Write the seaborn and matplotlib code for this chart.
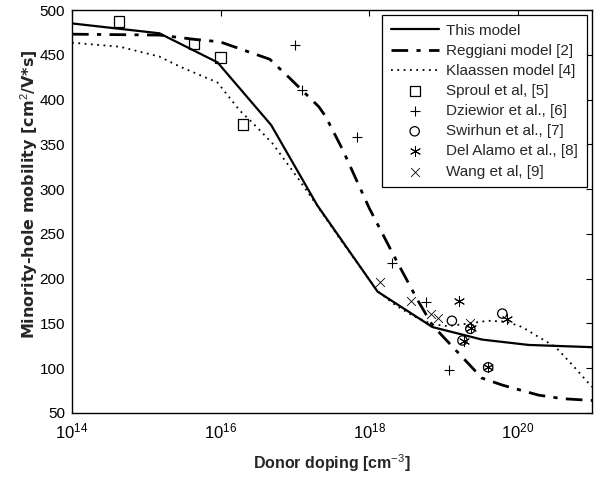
import numpy as np
import pandas as pd
import matplotlib
matplotlib.use("Agg")
import matplotlib.pyplot as plt
import seaborn as sns
from matplotlib.ticker import LogFormatterMathtext, FixedLocator, NullLocator

# ---------------- data ----------------
model_N = [1e14, 1.5e15, 9.1e15, 4.8e16, 2.0e17, 1.3e18, 7.1e18, 3.3e19, 1.4e20, 1e21]
model_mu = [485, 474, 441.5, 371.5, 282, 185.5, 146, 132, 126, 123.5]

reggiani_N = [1e14, 1.5e15, 4.7e15, 9.8e15, 4.6e16, 8.5e16, 2.1e17, 2.6e17, 4.4e17,
              1e18, 2.3e18, 4.5e18, 7.1e18, 3.3e19, 6.3e19, 1.9e20, 4e20, 1e21]
reggiani_mu = [473, 472, 467, 464.5, 445, 424, 392, 381, 344,
               279, 221, 176, 148, 89, 81, 70, 66, 64]

klaassen_N = [1e14, 4.4e14, 1.5e15, 2.8e15, 9.1e15, 1.8e16, 2.7e16, 5e16, 1.15e17, 1.9e17,
              4e17, 1.3e18, 2.3e18, 4e18, 7.1e18, 1.15e19, 2.2e19, 4e19, 7e19,
              1.15e20, 1.9e20, 3.2e20, 5.4e20, 1e21]
klaassen_mu = [463.5, 459, 448, 437, 419, 388, 374, 351, 310, 284,
               245, 186, 170, 158, 149, 147, 150, 153, 152,
               146, 135, 124, 104, 79]

sproul_N = [4.3e14, 4.4e15, 1.0e16, 2.0e16]
sproul_mu = [487, 462, 447, 372]

dziewior_N = [1.0e17, 1.23e17, 6.9e17, 2.0e18, 5.9e18, 1.2e19]
dziewior_mu = [461, 411, 358, 217, 174, 98]

swirhun_N = [1.3e19, 6.2e19, 1.8e19, 2.3e19, 4.0e19]
swirhun_mu = [153, 161, 131, 144, 101]

delalamo_N = [1.6e19, 7.1e19, 2.35e19, 1.9e19, 4.0e19]
delalamo_mu = [175, 155, 145, 130, 101]

wang_N = [1.38e18, 3.7e18, 6.9e18, 8.5e18, 2.3e19]
wang_mu = [196, 175, 160, 156, 150]

x_ticks = [1e14, 1e16, 1e18, 1e20]
y_ticks = [50, 100, 150, 200, 250, 300, 350, 400, 450, 500]

# ---------------- style ----------------
sns.set_style("white")
plt.rcParams["font.family"] = ["Liberation Sans", "DejaVu Sans"]
plt.rcParams["mathtext.fontset"] = "custom"
plt.rcParams["mathtext.rm"] = "Liberation Sans"
plt.rcParams["mathtext.it"] = "Liberation Sans:italic"
plt.rcParams["mathtext.bf"] = "Liberation Sans:bold"

fig = plt.figure(figsize=(5.99, 4.78), dpi=100)
ax = fig.add_axes([72 / 599, 1 - 413 / 478, 520 / 599, 403 / 478])

lines = pd.DataFrame({"N": model_N, "mu": model_mu})
sns.lineplot(data=lines, x="N", y="mu", ax=ax, color="black", lw=1.6,
             linestyle="-", label="This model", sort=False)
reg = pd.DataFrame({"N": reggiani_N, "mu": reggiani_mu})
sns.lineplot(data=reg, x="N", y="mu", ax=ax, color="black", lw=2.0,
             linestyle=(0, (6, 3, 1.5, 3)), label="Reggiani model [2]", sort=False)
kla = pd.DataFrame({"N": klaassen_N, "mu": klaassen_mu})
sns.lineplot(data=kla, x="N", y="mu", ax=ax, color="black", lw=1.3,
             linestyle=(0, (1, 2.5)), label="Klaassen model [4]", sort=False)

def pts(Ns, mus, marker, label, size, lw=0.9, filled=False):
    df = pd.DataFrame({"N": Ns, "mu": mus})
    if filled:
        sns.scatterplot(data=df, x="N", y="mu", ax=ax, marker=marker, s=size,
                        color="black", linewidth=lw, label=label, zorder=5)
    else:
        sns.scatterplot(data=df, x="N", y="mu", ax=ax, marker=marker, s=size,
                        facecolor="none", edgecolor="black", linewidth=lw,
                        label=label, zorder=5)

pts(sproul_N, sproul_mu, "s", "Sproul et al, [5]", 55)
pts(dziewior_N, dziewior_mu, "+", "Dziewior et al., [6]", 60, lw=0.8, filled=True)
pts(swirhun_N, swirhun_mu, "o", "Swirhun et al., [7]", 45)
pts(delalamo_N, delalamo_mu, (6, 2, 0), "Del Alamo et al., [8]", 55, lw=0.7, filled=True)
pts(wang_N, wang_mu, "x", "Wang et al, [9]", 40, lw=0.6, filled=True)

ax.set_xscale("log")
ax.set_xlim(1e14, 1e21)
ax.set_ylim(50, 500)
ax.xaxis.set_major_locator(FixedLocator(x_ticks))
ax.xaxis.set_minor_locator(NullLocator())
ax.xaxis.set_major_formatter(LogFormatterMathtext())
ax.set_yticks(y_ticks)

ax.tick_params(axis="both", which="major", direction="in", length=4.5, width=0.8,
               top=True, right=True, labelsize=11, colors="black", pad=5)
ax.tick_params(axis="x", pad=6, labelsize=12)
for sp in ax.spines.values():
    sp.set_visible(True)
    sp.set_color("black")
    sp.set_linewidth(1.0)

ax.set_xlabel("Donor doping [cm$^{-3}$]", fontsize=11.5, fontweight="bold")
ax.set_ylabel("Minority-hole mobility [cm$^{2}$/V*s]", fontsize=11.5,
              fontweight="bold", family=["DejaVu Sans"])
ax.xaxis.label.set_va("center")
ax.yaxis.label.set_va("center")
ax.xaxis.set_label_coords(0.5, -0.124)
ax.yaxis.set_label_coords(-0.083, 0.543)

leg = ax.legend(loc="upper right", fontsize=11, frameon=True, fancybox=False,
                edgecolor="black", framealpha=1, handlelength=3.15,
                handletextpad=0.5, labelspacing=0.40, borderaxespad=0.35,
                borderpad=0.55)
leg.get_frame().set_linewidth(0.9)

fig.savefig("out.png", dpi=100)
